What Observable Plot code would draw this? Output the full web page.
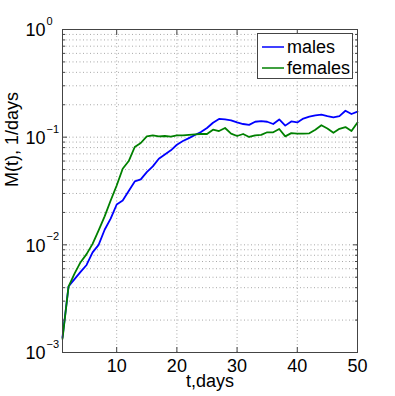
<!DOCTYPE html>
<html><head><meta charset="utf-8">
<script src="https://cdn.jsdelivr.net/npm/d3@7"></script>
<script src="https://cdn.jsdelivr.net/npm/@observablehq/plot@0.6"></script>
<style>
body{margin:0;background:#fff}
#wrap{position:relative;width:395px;height:396px;font-family:"Liberation Sans",Arial,Helvetica,sans-serif}
#legend{position:absolute;left:257px;top:33px;width:96px;height:46px;border:1px solid #444;background:#fff;box-sizing:border-box}
.row{position:absolute;left:4px;height:20px;display:flex;align-items:center;font-size:18px;color:#000;white-space:nowrap}
.row svg{margin-right:3px}
</style>
</head><body><div id="wrap"><div id="legend"></div></div>
<script>
const days = [1,2,3,4,5,6,7,8,9,10,11,12,13,14,15,16,17,18,19,20,21,22,23,24,25,26,27,28,29,30,31,32,33,34,35,36,37,38,39,40,41,42,43,44,45,46,47,48,49,50];
const males = [0.00138,0.0041,0.0048,0.0056,0.0065,0.0085,0.0100,0.0138,0.0175,0.0237,0.0258,0.0316,0.0388,0.0405,0.0474,0.0535,0.063,0.069,0.0755,0.085,0.092,0.098,0.1047,0.1117,0.1217,0.136,0.1476,0.146,0.1435,0.137,0.1325,0.130,0.139,0.141,0.139,0.1325,0.146,0.128,0.140,0.137,0.1487,0.155,0.159,0.162,0.157,0.153,0.157,0.176,0.164,0.1727];
const females = [0.00134,0.0041,0.0054,0.0069,0.0082,0.0102,0.0136,0.0184,0.0258,0.0356,0.0509,0.060,0.081,0.0883,0.1018,0.104,0.1018,0.1025,0.1011,0.104,0.104,0.105,0.106,0.107,0.107,0.1174,0.114,0.1217,0.108,0.1025,0.107,0.1004,0.104,0.105,0.111,0.111,0.119,0.1018,0.109,0.108,0.108,0.1085,0.1174,0.129,0.1205,0.110,0.1195,0.124,0.114,0.137];
const seriesNames = ["males","females"];
const seriesColors = ["#0000ff","#008000"];
const xTicks = [10,20,30,40,50];
const yDecades = [1e-3,1e-2,1e-1,1];
const yExponents = ["\u22123","\u22122","\u22121","0"];
const xLabel = "t,days";
const yLabel = "M(t), 1/days";

const yMinor = [];
for (const d of yDecades.slice(0,3)) for (let k=2;k<=9;k++) yMinor.push(d*k);
const rows = [];
days.forEach((t,i)=>{ rows.push({t, v: males[i], s: seriesNames[0]}); rows.push({t, v: females[i], s: seriesNames[1]}); });

const gridStyle = {stroke:"#a8a8a8", strokeDasharray:"1,2.5", strokeWidth:1};
const fs = 18;
const plot = Plot.plot({
  width: 395, height: 396,
  marginLeft: 62, marginRight: 38, marginTop: 29, marginBottom: 44,
  style: {fontFamily: '"Liberation Sans", Arial, sans-serif', background: "#fff"},
  x: {domain: [1,50]},
  y: {type: "log", domain: [1e-3, 1]},
  color: {domain: seriesNames, range: seriesColors},
  marks: [
    Plot.ruleY(yMinor.concat(yDecades.slice(1,3)), gridStyle),
    Plot.ruleX(xTicks.slice(0,4), gridStyle),
    Plot.line(rows, {x:"t", y:"v", stroke:"s", z:"s", strokeWidth:1.8}),
    Plot.frame({stroke:"#444", strokeWidth:1}),
    Plot.axisX({anchor:"bottom", ticks:xTicks, tickSize:-5, tickFormat:()=>"", label:null, stroke:"#444"}),
    Plot.axisX({anchor:"top", ticks:xTicks, tickSize:-5, tickFormat:()=>"", label:null, stroke:"#444"}),
    Plot.axisX({anchor:"bottom", ticks:xTicks, tickSize:0, tickPadding:6.5, fontSize:fs, fill:"#000", label:null, tickFormat: d=>String(d)}),
    Plot.axisY({anchor:"left", ticks:yDecades, tickSize:-5, tickFormat:()=>"", label:null, stroke:"#444"}),
    Plot.axisY({anchor:"right", ticks:yDecades, tickSize:-5, tickFormat:()=>"", label:null, stroke:"#444"}),
    Plot.axisY({anchor:"left", ticks:yMinor, tickSize:-3, tickFormat:()=>"", label:null, stroke:"#444"}),
    Plot.axisY({anchor:"right", ticks:yMinor, tickSize:-3, tickFormat:()=>"", label:null, stroke:"#444"}),
    Plot.text(yDecades, {y: d=>d, text: ()=>"10", frameAnchor:"left", textAnchor:"end", dx:-17, dy:1, fontSize:fs, fill:"#000"}),
    Plot.text(yDecades, {y: d=>d, text: (d,i)=>yExponents[i], frameAnchor:"left", textAnchor:"start", dx:-16, dy:-8, fontSize:11, fill:"#000"}),
    Plot.text([xLabel], {text: d=>d, frameAnchor:"bottom", dy:34, fontSize:fs, fill:"#000"}),
    Plot.text([yLabel], {text: d=>d, frameAnchor:"left", rotate:-90, dx:-50, dy:-4, fontSize:fs, fill:"#000"})
  ]
});
document.getElementById("wrap").prepend(plot);

const legend = document.getElementById("legend");
seriesNames.forEach((n,i)=>{
  const r = document.createElement("div");
  r.className = "row";
  r.style.top = (3 + i*21) + "px";
  r.innerHTML = `<svg width="22" height="6"><line x1="0" x2="22" y1="3" y2="3" stroke="${seriesColors[i]}" stroke-width="1.5"/></svg>${n}`;
  legend.appendChild(r);
});
</script>
</body></html>
